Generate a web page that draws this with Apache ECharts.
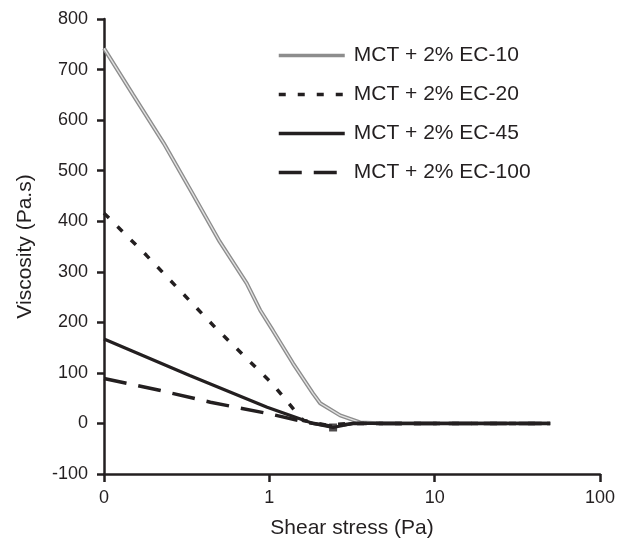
<!DOCTYPE html>
<html>
<head>
<meta charset="utf-8">
<script src="https://cdn.jsdelivr.net/npm/echarts@6/dist/echarts.min.js"></script>
<style>
html,body{margin:0;padding:0;background:#fff;}
#chart{width:619px;height:538px;}
</style>
</head>
<body>
<div id="chart"></div>
<script>
// ---- data ----
var seriesNames = ['MCT + 2% EC-10', 'MCT + 2% EC-20', 'MCT + 2% EC-45', 'MCT + 2% EC-100'];
var xTickLabels = ['0', '1', '10', '100'];

var ec10X = [0.1, 0.15, 0.23, 0.34, 0.5, 0.73, 0.88, 1.05, 1.39, 1.84, 2.03, 2.68, 3.54, 5, 10, 20, 50];
var ec10Y = [742, 650, 554, 457, 360, 277, 224, 184, 119, 59, 40, 16, 2, 0, 0, 0, 0];

var ec20X = [0.1, 0.18, 0.47, 1.04, 1.6, 2.2, 3, 5, 10, 20, 50];
var ec20Y = [416, 333, 190, 79, 6, -3, 0, 0, 0, 0, 0];

var ec45X = [0.1, 0.33, 0.97, 1.84, 2.43, 3.2, 5, 10, 20, 50];
var ec45Y = [167, 95, 32, 0, -8, 0, 0, 0, 0, 0];

var ec100X = [0.1, 0.22, 0.44, 0.97, 1.69, 2.43, 3.2, 5, 10, 20, 50];
var ec100Y = [89, 65, 42, 20, 2, -6, 0, 0, 0, 0, 0];

var markerX = [2.43];
var markerY = [-8];

function pairs(xs, ys) { return xs.map(function (x, i) { return [x, ys[i]]; }); }

var FONT = '"Liberation Sans", Arial, Helvetica, sans-serif';
var INK = '#231f20';
var CLEAR = 'rgba(0,0,0,0)';

var chart = echarts.init(document.getElementById('chart'), null, { renderer: 'canvas' });
chart.setOption({
  animation: false,
  backgroundColor: '#ffffff',
  textStyle: { fontFamily: FONT, color: INK },
  grid: { left: 104, right: 19, top: 19, bottom: 64, containLabel: false, outerBoundsMode: 'none' },
  legend: {
    orient: 'vertical',
    left: 272,
    top: 40,
    itemWidth: 66,
    itemHeight: 14,
    itemGap: 18,
    data: seriesNames,
    itemStyle: { color: CLEAR, borderColor: CLEAR, borderWidth: 0, opacity: 0 },
    lineStyle: { width: 3.5 },
    textStyle: { fontFamily: FONT, fontSize: 21, color: INK, padding: [0, 0, 0, 4] }
  },
  xAxis: {
    type: 'log',
    logBase: 10,
    min: 0.1,
    max: 100,
    name: 'Shear stress (Pa)',
    nameLocation: 'middle',
    nameGap: 44,
    nameTextStyle: { fontFamily: FONT, fontSize: 21, color: INK },
    axisLine: { onZero: false, lineStyle: { color: INK, width: 2.5 } },
    axisTick: { show: true, inside: false, length: 8, lineStyle: { color: INK, width: 2.5 } },
    minorTick: { show: false },
    splitLine: { show: false },
    axisLabel: {
      margin: 15,
      fontFamily: FONT, fontSize: 18, color: INK,
      formatter: function (v) {
        var idx = Math.round(Math.log(v) / Math.LN10) + 1;
        return xTickLabels[idx] !== undefined ? xTickLabels[idx] : '';
      }
    }
  },
  yAxis: {
    type: 'value',
    min: -100,
    max: 800,
    interval: 100,
    name: 'Viscosity (Pa.s)',
    nameLocation: 'middle',
    nameGap: 68,
    nameTextStyle: { fontFamily: FONT, fontSize: 21, color: INK },
    axisLine: { show: true, onZero: false, lineStyle: { color: INK, width: 2.5 } },
    axisTick: { show: true, inside: false, length: 7, lineStyle: { color: INK, width: 2.5 } },
    splitLine: { show: false },
    axisLabel: { margin: 16, fontFamily: FONT, fontSize: 18, color: INK }
  },
  series: [
    {
      name: seriesNames[0], type: 'line', symbol: 'none', showSymbol: false, z: 2,
      data: pairs(ec10X, ec10Y),
      lineStyle: { color: '#8d8d8d', width: 4 },
      itemStyle: { color: '#8d8d8d' }
    },
    {
      name: 'ec10-core', type: 'line', symbol: 'none', showSymbol: false, z: 3, silent: true,
      data: pairs(ec10X, ec10Y),
      lineStyle: { color: '#e2e2e2', width: 1.3 }
    },
    {
      name: seriesNames[1], type: 'line', symbol: 'none', showSymbol: false, z: 4,
      data: pairs(ec20X, ec20Y),
      lineStyle: { color: INK, width: 3.5, type: [7, 12] },
      itemStyle: { color: INK }
    },
    {
      name: seriesNames[3], type: 'line', symbol: 'none', showSymbol: false, z: 5,
      data: pairs(ec100X, ec100Y),
      lineStyle: { color: INK, width: 3.5, type: [23, 12] },
      itemStyle: { color: INK }
    },
    {
      name: seriesNames[2], type: 'line', symbol: 'none', showSymbol: false, z: 6,
      data: pairs(ec45X, ec45Y),
      lineStyle: { color: INK, width: 3.2 },
      itemStyle: { color: INK }
    },
    {
      name: 'marker', type: 'scatter', symbol: 'rect', symbolSize: 8, z: 7, silent: true,
      data: pairs(markerX, markerY),
      itemStyle: { color: INK }
    }
  ]
});
</script>
</body>
</html>
